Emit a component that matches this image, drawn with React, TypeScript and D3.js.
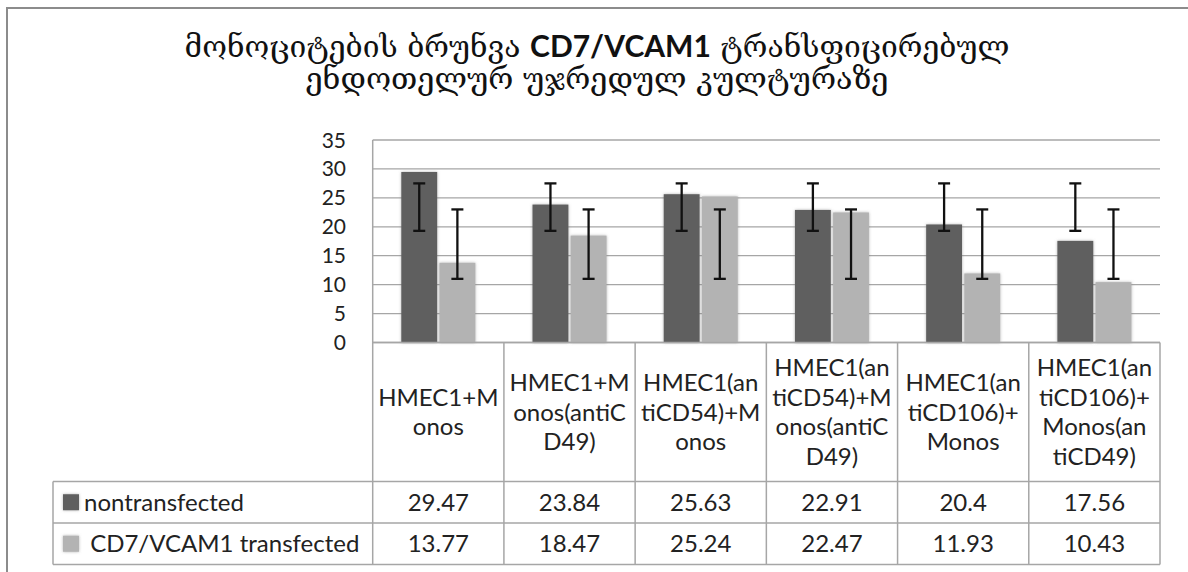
import React from "react";
import * as d3 from "d3";

// ---- data ----
const categoryLines: string[][] = [
  ["HMEC1+M", "onos"],
  ["HMEC1+M", "onos(antiC", "D49)"],
  ["HMEC1(an", "tiCD54)+M", "onos"],
  ["HMEC1(an", "tiCD54)+M", "onos(antiC", "D49)"],
  ["HMEC1(an", "tiCD106)+", "Monos"],
  ["HMEC1(an", "tiCD106)+", "Monos(an", "tiCD49)"],
];
const seriesNames = ["nontransfected", " CD7/VCAM1 transfected"];
const nontransfected = [29.47, 23.84, 25.63, 22.91, 20.4, 17.56];
const transfected = [13.77, 18.47, 25.24, 22.47, 11.93, 10.43];
const nontransfectedLabels = ["29.47", "23.84", "25.63", "22.91", "20.4", "17.56"];
const transfectedLabels = ["13.77", "18.47", "25.24", "22.47", "11.93", "10.43"];
// error bar ends (low, high)
const nontransfectedErrLow = [19.3, 19.3, 19.3, 19.3, 19.3, 19.3];
const nontransfectedErrHigh = [27.5, 27.5, 27.5, 27.5, 27.5, 27.5];
const transfectedErrLow = [11.0, 11.0, 11.0, 11.0, 11.0, 11.0];
const transfectedErrHigh = [23.0, 23.0, 23.0, 23.0, 23.0, 23.0];
const yTicks = [0, 5, 10, 15, 20, 25, 30, 35];
const titleLine1 = ["მონოციტების ბრუნვა ", "CD7/VCAM1", " ტრანსფიცირებულ"];
const titleLine2 = "ენდოთელურ უჯრედულ კულტურაზე";

const colors = ["#5f5f5f", "#b3b3b3"];
const W = 1188;
const H = 572;

export default function App() {
  const plotLeft = 372.7;
  const plotRight = 1160;
  const plotTop = 140;
  const plotBottom = 342.5;
  const tableLeft = 53;
  const headerBottom = 481.5;
  const row1Bottom = 523;
  const row2Bottom = 564.5;

  const cats = categoryLines.map((_, i) => String(i));
  const x0 = d3.scaleBand().domain(cats).range([plotLeft, plotRight]).padding(0);
  const y = d3.scaleLinear().domain([0, 35]).range([plotBottom, plotTop]);
  const groupW = 74;
  const x1 = d3.scaleBand().domain(["0", "1"]).range([0, groupW]).paddingInner(0.06);

  const series = [
    { vals: nontransfected, lo: nontransfectedErrLow, hi: nontransfectedErrHigh },
    { vals: transfected, lo: transfectedErrLow, hi: transfectedErrHigh },
  ];

  const font = "Lato, 'Open Sans', sans-serif";
  const geoFont = "'DejaVu Serif', 'DejaVu Sans', serif";
  const textColor = "#222";
  const gridColor = "#a6a6a6";
  const capW = 12;
  const lineH = 29.5;

  return (
    <svg width={W} height={H} style={{ position: "absolute", left: 0, top: 0, background: "#fff" }}>
      <defs>
        <filter id="shadow" x="-20%" y="-20%" width="140%" height="140%">
          <feDropShadow dx="0" dy="0" stdDeviation="1.6" floodColor="#777" floodOpacity="0.55" />
        </filter>
      </defs>
      <rect x={0} y={0} width={W} height={H} fill="#fff" />
      {/* outer frame */}
      <path d={`M7,${H + 5} L7,8 L${W + 5},8`} fill="none" stroke="#8c8c8c" strokeWidth={2} />

      {/* title */}
      <text x={597} y={57} textAnchor="middle" fontSize={30} fill="#111" fontFamily={geoFont}>
        <tspan>{titleLine1[0]}</tspan>
        <tspan fontFamily={font} fontWeight="bold" fontSize={30}>{titleLine1[1]}</tspan>
        <tspan>{titleLine1[2]}</tspan>
      </text>
      <text x={597} y={89} textAnchor="middle" fontSize={30.5} fill="#111" fontFamily={geoFont}>
        {titleLine2}
      </text>

      {/* gridlines */}
      {yTicks.map((t) => (
        <line key={t} x1={plotLeft} x2={plotRight} y1={y(t)} y2={y(t)} stroke={gridColor} strokeWidth={1.3} />
      ))}
      {/* y labels */}
      {yTicks.map((t) => (
        <text key={"l" + t} x={346} y={y(t)} dy="0.36em" textAnchor="end" fontSize={21} fontFamily={font} fill={textColor}>
          {t}
        </text>
      ))}

      {/* bars */}
      {series.map((s, si) =>
        s.vals.map((v, ci) => {
          const cx = (x0(String(ci)) as number) + x0.bandwidth() / 2 - groupW / 2 + (x1(String(si)) as number);
          return (
            <rect key={`b${si}-${ci}`} x={cx} y={y(v)} width={x1.bandwidth()} height={y(0) - y(v)} fill={colors[si]} filter="url(#shadow)" />
          );
        })
      )}
      {/* error bars */}
      {series.map((s, si) =>
        s.vals.map((_, ci) => {
          const cx = (x0(String(ci)) as number) + x0.bandwidth() / 2 - groupW / 2 + (x1(String(si)) as number) + x1.bandwidth() / 2;
          const y1 = y(s.hi[ci]);
          const y2 = y(s.lo[ci]);
          return (
            <g key={`e${si}-${ci}`} stroke="#111" strokeWidth={2.3}>
              <line x1={cx} x2={cx} y1={y1} y2={y2} />
              <line x1={cx - capW / 2} x2={cx + capW / 2} y1={y1} y2={y1} />
              <line x1={cx - capW / 2} x2={cx + capW / 2} y1={y2} y2={y2} />
            </g>
          );
        })
      )}

      {/* table lines */}
      <g stroke={gridColor} strokeWidth={1.5} fill="none">
        <line x1={plotLeft} x2={plotLeft} y1={plotTop} y2={row2Bottom} />
        <line x1={plotLeft} x2={plotRight} y1={plotBottom} y2={plotBottom} />
        {cats.map((c) => (
          <line key={"v" + c} x1={(x0(c) as number) + x0.bandwidth()} x2={(x0(c) as number) + x0.bandwidth()} y1={plotBottom} y2={row2Bottom} />
        ))}
        <line x1={tableLeft} x2={plotRight} y1={headerBottom} y2={headerBottom} />
        <line x1={tableLeft} x2={plotRight} y1={row1Bottom} y2={row1Bottom} />
        <line x1={tableLeft} x2={plotRight} y1={row2Bottom} y2={row2Bottom} />
        <line x1={tableLeft} x2={tableLeft} y1={headerBottom} y2={row2Bottom} />
      </g>

      {/* category header labels */}
      {categoryLines.map((lines, ci) => {
        const cx = (x0(String(ci)) as number) + x0.bandwidth() / 2;
        const mid = (plotBottom + headerBottom) / 2;
        return lines.map((ln, li) => (
          <text key={`c${ci}-${li}`} x={cx} y={mid + (li - (lines.length - 1) / 2) * lineH + 8.5} textAnchor="middle" fontSize={24} fontFamily={font} fill={textColor}>
            {ln}
          </text>
        ));
      })}

      {/* data rows */}
      {[nontransfectedLabels, transfectedLabels].map((labels, si) => {
        const top = si === 0 ? headerBottom : row1Bottom;
        const bot = si === 0 ? row1Bottom : row2Bottom;
        const mid = (top + bot) / 2;
        return (
          <g key={"row" + si}>
            <rect x={63} y={mid - 8} width={16} height={16} fill={colors[si]} filter="url(#shadow)" />
            <text x={84} y={mid + 8.5} fontSize={24} fontFamily={font} fill={textColor} style={{ whiteSpace: "pre" }}>
              {seriesNames[si]}
            </text>
            {labels.map((lb, ci) => (
              <text key={ci} x={(x0(String(ci)) as number) + x0.bandwidth() / 2} y={mid + 8.5} textAnchor="middle" fontSize={24} fontFamily={font} fill={textColor}>
                {lb}
              </text>
            ))}
          </g>
        );
      })}
    </svg>
  );
}
